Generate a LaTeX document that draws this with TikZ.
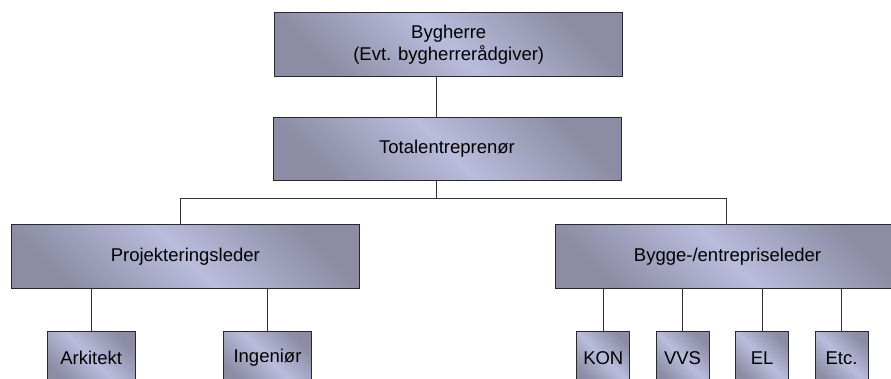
\documentclass[tikz,border=0pt]{standalone}
\usepackage{fontspec}
\setmainfont{Liberation Sans}
\definecolor{boxlight}{RGB}{186,188,220}
\definecolor{boxdark}{RGB}{140,140,164}
\definecolor{edge}{RGB}{40,40,48}
\begin{document}
\begin{tikzpicture}[x=1pt,y=-1pt,
  orgbox/.style={draw=edge, line width=1pt, inner sep=0pt, outer sep=0pt,
    shading=axis, top color=boxdark, bottom color=boxdark, middle color=boxlight,
    shading angle=-45, align=center,
    font=\fontsize{18.5}{21.5}\selectfont},
  wide/.style={orgbox, minimum width=348pt, minimum height=63.5pt},
  small/.style={orgbox, minimum height=54pt},
  link/.style={draw=black!80, line width=1pt}]
\useasboundingbox (0,0) rectangle (891,378);
\clip (0,0) rectangle (891,378);

% organisation boxes
\node[wide] (top) at (448.7,44.5) {Bygherre\\(Evt. bygherrerådgiver)};
\node[wide] (mid) at (447,149) {Totalentreprenør};
\node[wide, minimum width=347.5pt] (proj) at (185.3,256.5) {Projekteringsleder};
\node[wide, minimum width=343.6pt] (bygge) at (727.5,256.5) {Bygge-/entrepriseleder};

\node[small, minimum width=87.7pt] (ark) at (91.2,358) {Arkitekt};
\node[small, minimum width=88.4pt] (ing) at (267.5,358) {Ingeniør};
\node[small, minimum width=53.3pt] (kon) at (603.3,358) {KON};
\node[small, minimum width=53pt] (vvs) at (682.5,358) {VVS};
\node[small, minimum width=53pt] (el) at (762.2,358) {EL};
\node[small, minimum width=53pt] (etc) at (841.5,358) {Etc.};

% connectors
\coordinate (spine) at (436,0);
\coordinate (split) at (436,198.3);
\draw[link] (top.south -| spine) -- (mid.north -| spine);
\draw[link] (mid.south -| spine) -- (split);
\draw[link] ([xshift=-5.3pt]proj.north) |- (split) -| ([xshift=-0.8pt]bygge.north);

\draw[link] (proj.south -| ark.north) -- (ark.north);
\draw[link] (proj.south -| ing.north) -- (ing.north);
\draw[link] (bygge.south -| kon.north) -- (kon.north);
\draw[link] (bygge.south -| vvs.north) -- (vvs.north);
\draw[link] (bygge.south -| el.north) -- (el.north);
\draw[link] (bygge.south -| etc.north) -- (etc.north);
\end{tikzpicture}
\end{document}
